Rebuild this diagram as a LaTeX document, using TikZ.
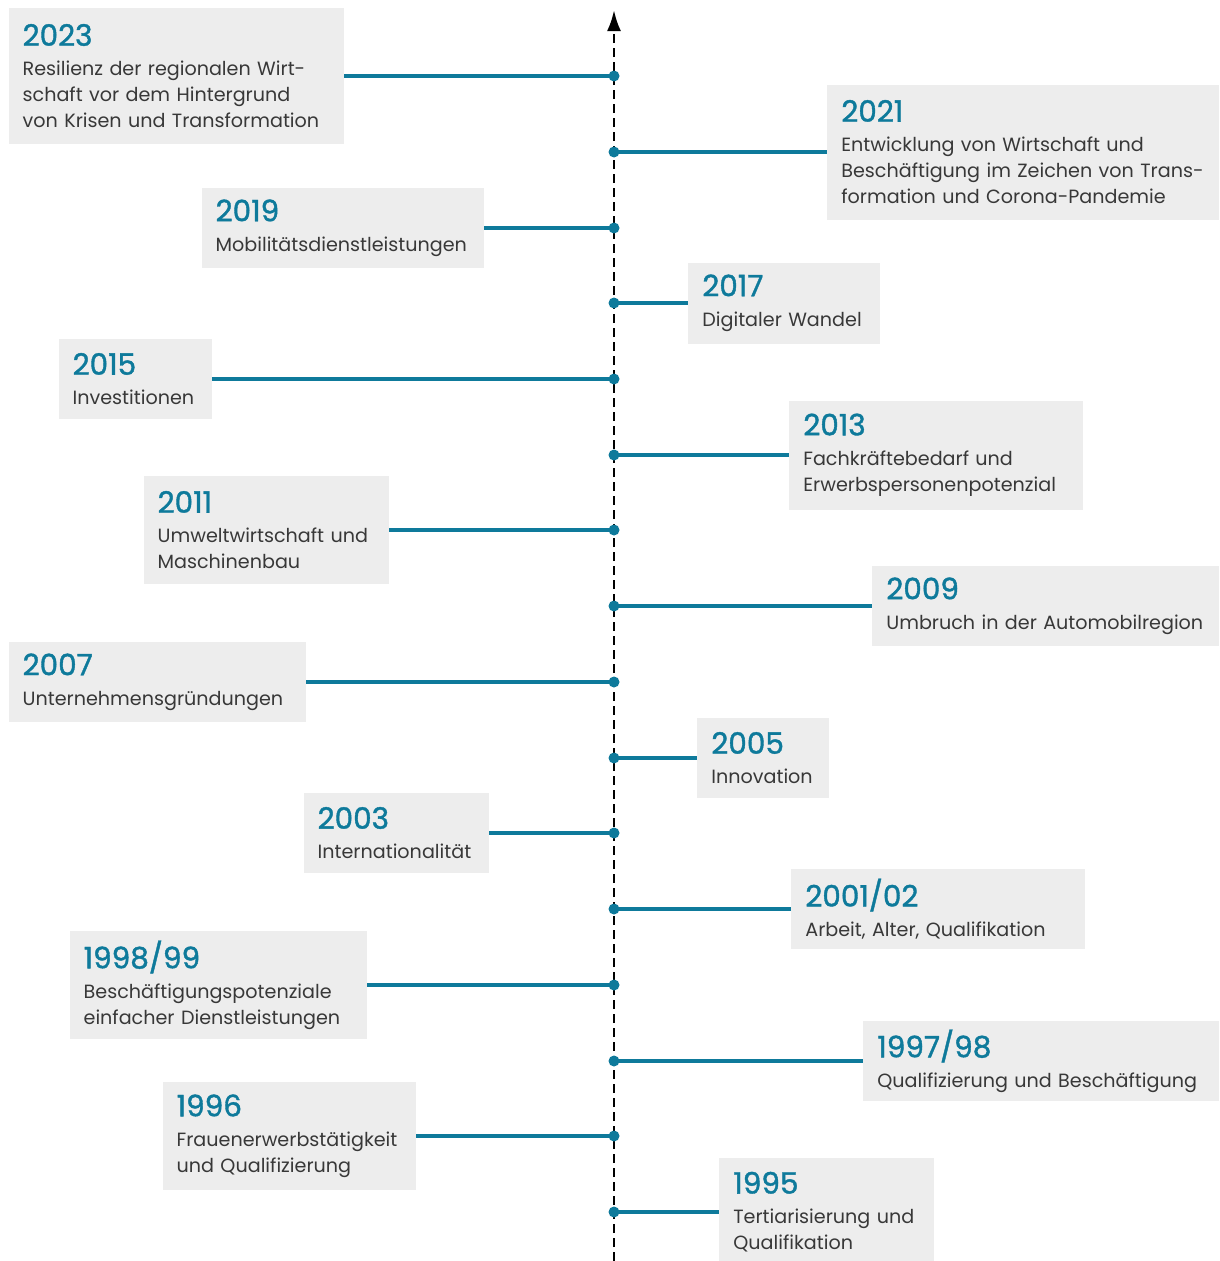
\documentclass[tikz,border=0pt]{standalone}
\usepackage{fontspec}
\setmainfont{Poppins}
\newfontfamily\yearfont[FakeBold=1.3]{Poppins}
\usepackage{tikz}
\usetikzlibrary{arrows.meta}

\definecolor{tlteal}{HTML}{0E7A9B}
\definecolor{boxgray}{HTML}{EDEDED}
\definecolor{bodygray}{HTML}{383838}

\newlength\pxu
\setlength\pxu{0.02cm}

% year heading, then one unbreakable box per text line
\newcommand\yr[1]{{\color{tlteal}\yearfont\fontsize{16.8}{20}\selectfont #1}\\[4\pxu]}
\newcommand\tline[1]{\mbox{#1}}

\tikzset{
	entry/.style={fill=boxgray, inner xsep=14\pxu, inner ysep=0pt, align=left,
		text=bodygray, font=\fontsize{10.9}{14.8}\selectfont},
	dot/.style={circle, fill=tlteal, inner sep=0pt, minimum size=11\pxu},
	link/.style={tlteal, line width=1.9pt},
	axis/.style={line width=1.6pt, dash pattern=on 9\pxu off 5\pxu, -{Latex[length=12pt,width=8pt]}}
}

\begin{document}
\begin{tikzpicture}[x=0.02cm, y=-0.02cm]
\useasboundingbox (0,0) rectangle (1220,1261);

% time axis
\coordinate (bot) at (614,1261);
\coordinate (top) at (614,10);
\draw[axis] (bot) -- (top);

% left side
\node[entry, anchor=east, text width=307\pxu, minimum height=136\pxu] (b2023) at (344,76)
	{\yr{2023}\tline{Resilienz der regionalen Wirt-}\\\tline{schaft vor dem Hintergrund}\\\tline{von Krisen und Transformation}};
\node[entry, anchor=east, text width=254\pxu, minimum height=80\pxu] (b2019) at (484,228)
	{\yr{2019}\tline{Mobilitätsdienstleistungen}};
\node[entry, anchor=east, text width=125\pxu, minimum height=80\pxu] (b2015) at (212,379)
	{\yr{2015}\tline{Investitionen}};
\node[entry, anchor=east, text width=217\pxu, minimum height=108\pxu] (b2011) at (389,530)
	{\yr{2011}\tline{Umweltwirtschaft und}\\\tline{Maschinenbau}};
\node[entry, anchor=east, text width=269\pxu, minimum height=80\pxu] (b2007) at (306,682)
	{\yr{2007}\tline{Unternehmensgründungen}};
\node[entry, anchor=east, text width=157\pxu, minimum height=80\pxu] (b2003) at (489,833)
	{\yr{2003}\tline{Internationalität}};
\node[entry, anchor=east, text width=269\pxu, minimum height=108\pxu] (b1998) at (367,985)
	{\yr{1998/99}\tline{Beschäftigungspotenziale}\\\tline{einfacher Dienstleistungen}};
\node[entry, anchor=east, text width=225\pxu, minimum height=108\pxu] (b1996) at (416,1136)
	{\yr{1996}\tline{Frauenerwerbstätigkeit}\\\tline{und Qualifizierung}};

% right side
\node[entry, anchor=west, text width=364\pxu, minimum height=135\pxu] (b2021) at (827,152)
	{\yr{2021}\tline{Entwicklung von Wirtschaft und}\\\tline{Beschäftigung im Zeichen von Trans-}\\\tline{formation und Corona-Pandemie}};
\node[entry, anchor=west, text width=164\pxu, minimum height=81\pxu] (b2017) at (688,303)
	{\yr{2017}\tline{Digitaler Wandel}};
\node[entry, anchor=west, text width=266\pxu, minimum height=109\pxu] (b2013) at (789,455)
	{\yr{2013}\tline{Fachkräftebedarf und}\\\tline{Erwerbspersonenpotenzial}};
\node[entry, anchor=west, text width=319\pxu, minimum height=80\pxu] (b2009) at (872,606)
	{\yr{2009}\tline{Umbruch in der Automobilregion}};
\node[entry, anchor=west, text width=104\pxu, minimum height=80\pxu] (b2005) at (697,758)
	{\yr{2005}\tline{Innovation}};
\node[entry, anchor=west, text width=266\pxu, minimum height=80\pxu] (b2001) at (791,909)
	{\yr{2001/02}\tline{Arbeit, Alter, Qualifikation}};
\node[entry, anchor=west, text width=328\pxu, minimum height=80\pxu] (b1997) at (863,1061)
	{\yr{1997/98}\tline{Qualifizierung und Beschäftigung}};
\node[entry, anchor=west, text width=187\pxu, minimum height=108\pxu] (b1995) at (719,1212)
	{\yr{1995}\tline{Tertiarisierung und}\\\tline{Qualifikation}};

% dots on the axis
\node[dot] (d2023) at (614,76) {};
\node[dot] (d2021) at (614,152) {};
\node[dot] (d2019) at (614,228) {};
\node[dot] (d2017) at (614,303) {};
\node[dot] (d2015) at (614,379) {};
\node[dot] (d2013) at (614,455) {};
\node[dot] (d2011) at (614,530) {};
\node[dot] (d2009) at (614,606) {};
\node[dot] (d2007) at (614,682) {};
\node[dot] (d2005) at (614,758) {};
\node[dot] (d2003) at (614,833) {};
\node[dot] (d2001) at (614,909) {};
\node[dot] (d1998) at (614,985) {};
\node[dot] (d1997) at (614,1061) {};
\node[dot] (d1996) at (614,1136) {};
\node[dot] (d1995) at (614,1212) {};

\foreach \k in {2023,2019,2015,2011,2007,2003,1998,1996}
	\draw[link] (d\k.center) -- (b\k.east);
\foreach \k in {2021,2017,2013,2009,2005,2001,1997,1995}
	\draw[link] (d\k.center) -- (b\k.west);
\end{tikzpicture}
\end{document}
